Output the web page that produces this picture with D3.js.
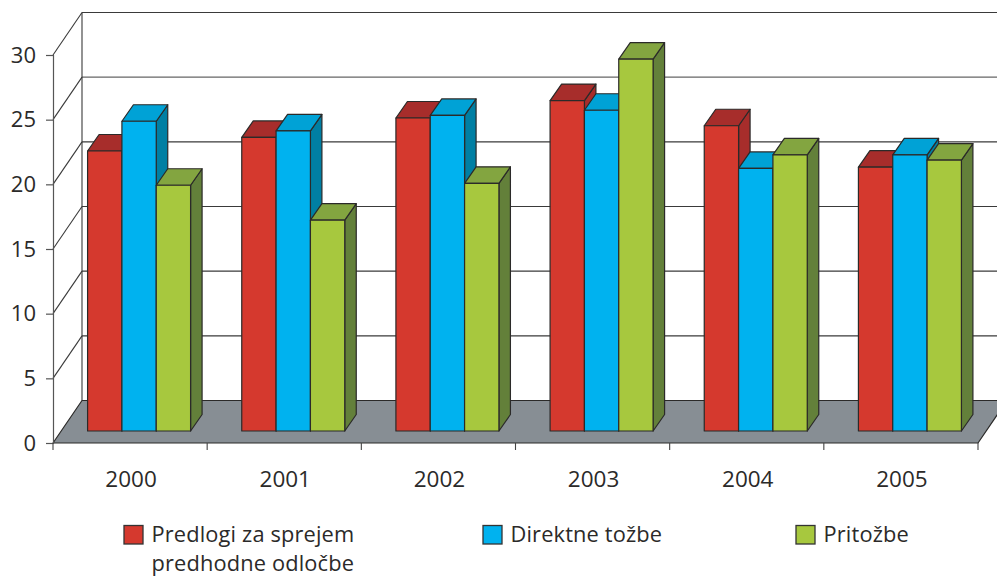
<!DOCTYPE html>
<html>
<head>
<meta charset="utf-8">
<script src="https://cdn.jsdelivr.net/npm/d3@7"></script>
<style>
html, body { margin: 0; padding: 0; background: #fff; overflow: hidden; }
text { font-family: "Open Sans", sans-serif; fill: #2b2a29; }
</style>
</head>
<body>
<svg id="chart" width="997" height="578"></svg>
<script>
var years = ["2000", "2001", "2002", "2003", "2004", "2005"];
var seriesNames = ["Predlogi za sprejem", "Direktne tožbe", "Pritožbe"];
var predlogi = [21.65, 22.7, 24.2, 25.55, 23.6, 20.4];
var direktne = [23.95, 23.2, 24.4, 24.8, 20.3, 21.35];
var pritozbe = [19.0, 16.3, 19.15, 28.75, 21.35, 20.95];
var yTicks = [0, 5, 10, 15, 20, 25, 30];

var seriesValues = [predlogi, direktne, pritozbe];
var fronts = ["#d5392e", "#00b2ef", "#a7c83e"];
var tops = ["#a72d2b", "#00a2d6", "#83a540"];
var sides = ["#a72d2b", "#007fa3", "#63803a"];

var svg = d3.select("#chart");
var line = "#3a3a3a";

var left = 53, right = 978, base = 443, top30 = 55;
var wallX = 29, wallY = -42.5;   // offset of back wall from front axis
var barX = 9, barY = -12;        // bars stand a bit in from the floor edge
var depthX = 11.5, depthY = -16.5;

var x = d3.scaleBand().domain(years).range([left, right]);
var y = d3.scaleLinear().domain([0, 30]).range([base, top30]);
var groupW = 103;
var xSeries = d3.scaleBand().domain(d3.range(3)).range([0, groupW]);

// floor
svg.append("polygon")
    .attr("points", [[left, base], [left + wallX, base + wallY], [right + wallX, base + wallY], [right, base]].join(" "))
    .attr("fill", "#878e94")
    .attr("stroke", "#2b2a29").attr("stroke-width", 1.2);

// back wall lines and left wall diagonals
yTicks.forEach(function(t) {
    if (t > 0) {
        svg.append("line")
            .attr("x1", left + wallX).attr("x2", 997)
            .attr("y1", y(t) + wallY).attr("y2", y(t) + wallY)
            .attr("stroke", t === 25 ? "#666" : line).attr("stroke-width", t === 25 ? 1.4 : 1.1);
        svg.append("line")
            .attr("x1", left).attr("x2", left + wallX)
            .attr("y1", y(t)).attr("y2", y(t) + wallY)
            .attr("stroke", line).attr("stroke-width", 1.1);
    }
});
svg.append("line")
    .attr("x1", left + wallX).attr("x2", left + wallX)
    .attr("y1", y(30) + wallY).attr("y2", y(0) + wallY)
    .attr("stroke", line).attr("stroke-width", 1.1);

// bars
years.forEach(function(yr, i) {
    var gx = x(yr) + x.bandwidth() / 2 + barX - groupW / 2;
    seriesValues.forEach(function(vals, s) {
        var x0 = gx + xSeries(s), w = xSeries.bandwidth();
        var yb = y(0) + barY, yt = y(vals[i]) + barY;
        var g = svg.append("g")
            .attr("stroke", "#2b2a29").attr("stroke-width", 1.2).attr("stroke-linejoin", "round");
        g.append("polygon")
            .attr("points", [[x0 + w, yt], [x0 + w + depthX, yt + depthY], [x0 + w + depthX, yb + depthY], [x0 + w, yb]].join(" "))
            .attr("fill", sides[s]);
        g.append("polygon")
            .attr("points", [[x0, yt], [x0 + depthX, yt + depthY], [x0 + w + depthX, yt + depthY], [x0 + w, yt]].join(" "))
            .attr("fill", tops[s]);
        g.append("rect")
            .attr("x", x0).attr("y", yt).attr("width", w).attr("height", yb - yt)
            .attr("fill", fronts[s]);
    });
});

// axes
var yAxis = d3.axisLeft(y).tickValues(yTicks).tickSize(7).tickPadding(10);
var gy = svg.append("g").attr("transform", "translate(" + left + ",0)").call(yAxis);
gy.selectAll("text").attr("font-size", 22).style("font-family", '"Open Sans", sans-serif').style("fill", "#2b2a29");
gy.selectAll("line").attr("stroke", "#555").attr("stroke-width", 1.2);
gy.select(".domain").attr("stroke", "#555").attr("stroke-width", 1.2);

var xAxis = d3.axisBottom(x).tickSize(0).tickPadding(28);
var gx = svg.append("g").attr("transform", "translate(1," + base + ")").call(xAxis);
gx.select(".domain").remove();
gx.selectAll("text").attr("font-size", 22.5).style("font-family", '"Open Sans", sans-serif').style("fill", "#2b2a29");

// ticks sit on the category boundaries
years.concat(["end"]).forEach(function(yr, i) {
    var tx = i < years.length ? x(yr) : right;
    svg.append("line")
        .attr("x1", tx).attr("x2", tx).attr("y1", base).attr("y2", base + 7)
        .attr("stroke", "#444").attr("stroke-width", 1.1);
});

// legend, sits about 3px higher than the source so the second line fits the window
var legendX = [124, 483, 796];
seriesNames.forEach(function(name, s) {
    svg.append("rect")
        .attr("x", legendX[s]).attr("y", 525.5).attr("width", 19).attr("height", 18.5)
        .attr("fill", fronts[s]).attr("stroke", "#333").attr("stroke-width", 1.3);
    svg.append("text")
        .attr("x", legendX[s] + 27.5).attr("y", 541.8)
        .attr("font-size", 21.8).attr("letter-spacing", 0.15)
        .text(name);
});
svg.append("text").attr("x", 151.5).attr("y", 571.4)
    .attr("font-size", 21.8).attr("letter-spacing", 0.15)
    .text("predhodne odločbe");
</script>
</body>
</html>
